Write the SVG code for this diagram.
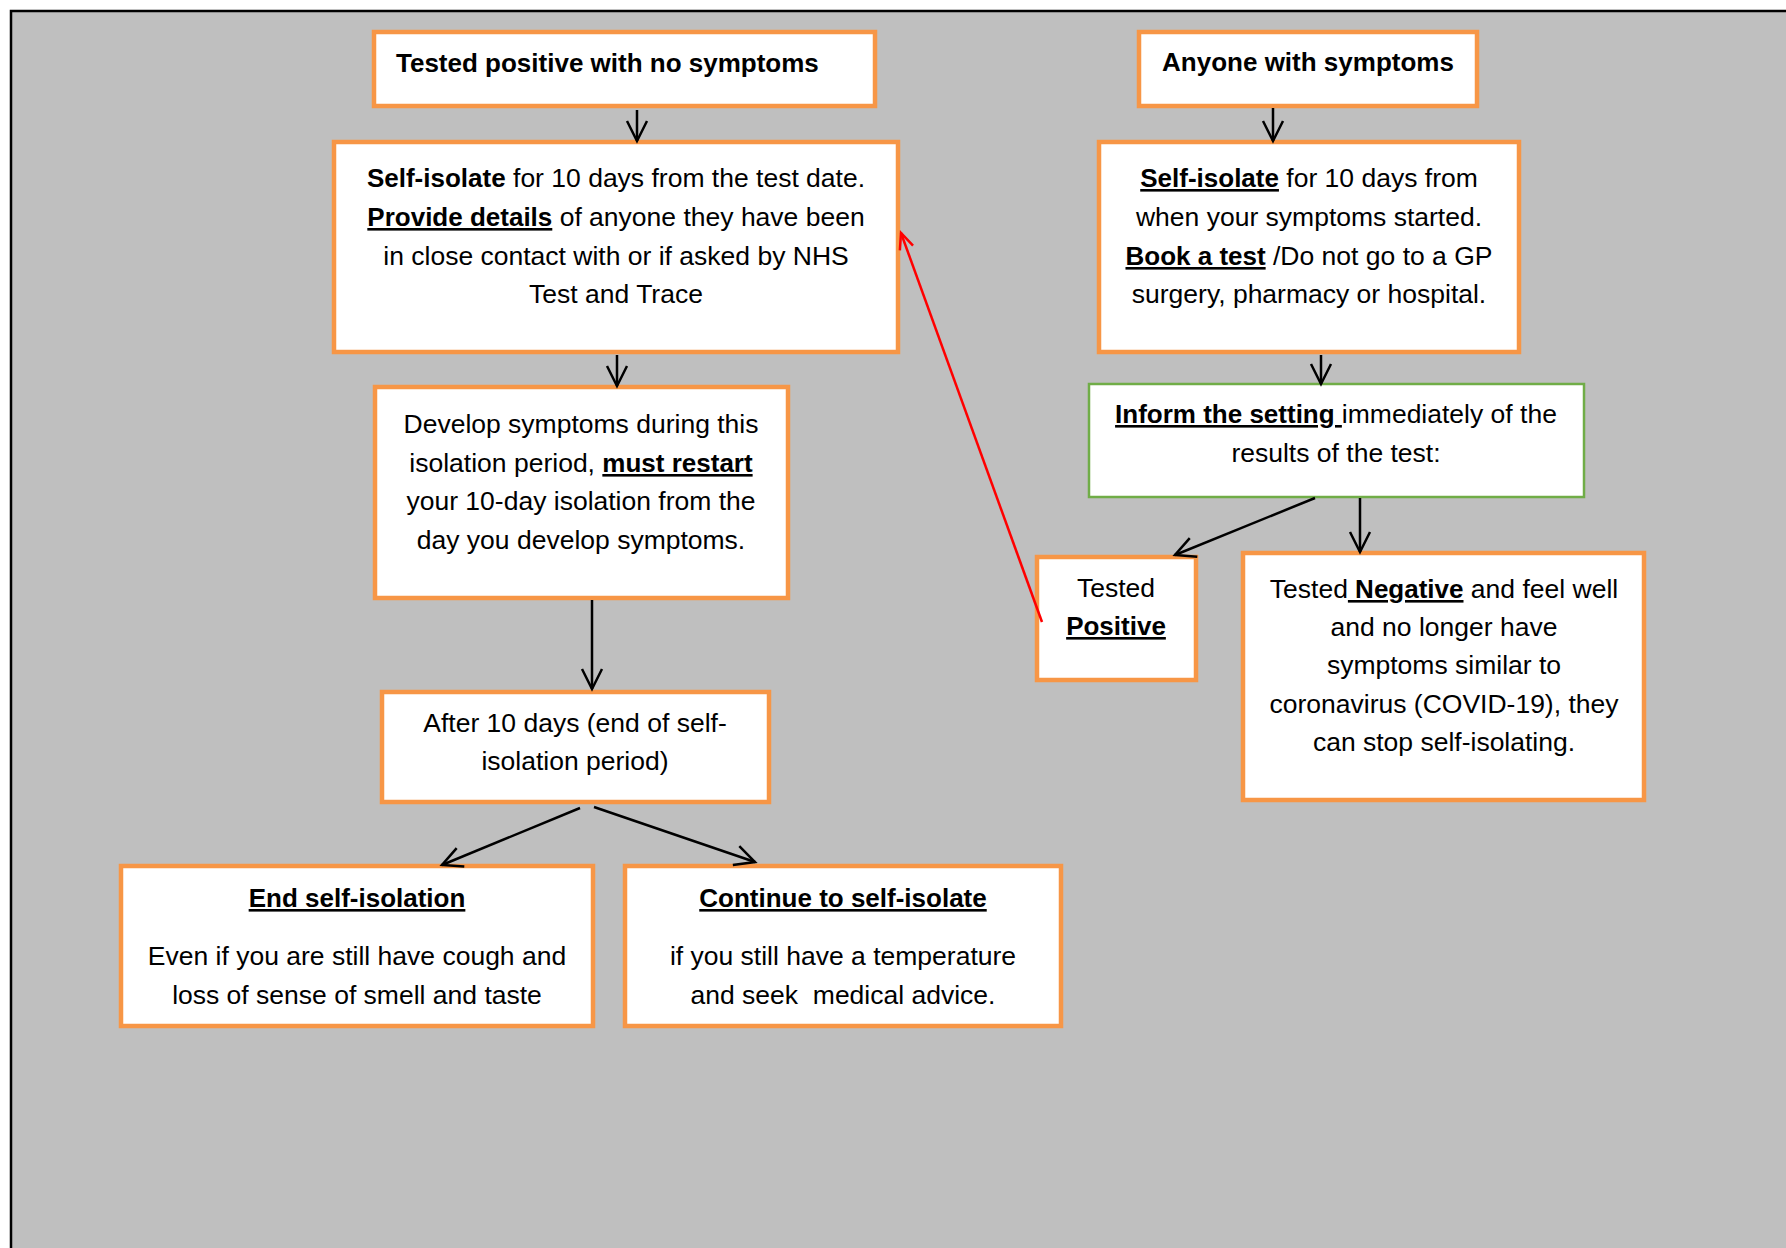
<svg xmlns="http://www.w3.org/2000/svg" width="1786" height="1248" viewBox="0 0 1786 1248">
<defs>
<style>
.box{fill:#fff;stroke:#F79646;stroke-width:4.5}
.gbox{fill:#fff;stroke:#70AD47;stroke-width:2.5}
.t{font-family:"Liberation Sans",Arial,sans-serif;font-size:26.5px;fill:#000;text-anchor:middle;white-space:pre}
.b{font-weight:bold;font-size:26px}
.u{text-decoration:underline}
.conn{stroke:#000;stroke-width:2.5;fill:none}
.blk{marker-end:url(#ah)}
.red{stroke:#FF0000;stroke-width:2.5;fill:none;marker-end:url(#ahr)}
</style>
<marker id="ah" markerUnits="userSpaceOnUse" viewBox="-22 -12 24 24" markerWidth="24" markerHeight="24" refX="0" refY="0" orient="auto" overflow="visible">
<path d="M-20,-10 L0,0 L-20,10" fill="none" stroke="#000" stroke-width="2.5"/>
</marker>
<marker id="ahr" markerUnits="userSpaceOnUse" viewBox="-22 -12 24 24" markerWidth="24" markerHeight="24" refX="0" refY="0" orient="auto" overflow="visible">
<path d="M-16,-7 L0,0 L-16,7" fill="none" stroke="#FF0000" stroke-width="2.5"/>
</marker>
</defs>
<rect x="0" y="0" width="1786" height="1248" fill="#fff"/>
<rect x="11" y="11" width="1800" height="1300" fill="#BFBFBF" stroke="#000" stroke-width="2.5"/>

<g id="n1"><rect class="box" x="374" y="32" width="501" height="74"/>
<text class="t b" x="396" y="72" style="text-anchor:start">Tested positive with no symptoms</text></g>

<g id="n2"><rect class="box" x="1139" y="32" width="338" height="74"/>
<text class="t b" x="1308" y="71">Anyone with symptoms</text></g>

<g id="n3"><rect class="box" x="334" y="142" width="564" height="210"/>
<text class="t" x="616" y="187"><tspan class="b">Self-isolate</tspan> for 10 days from the test date.</text>
<text class="t" x="616" y="226"><tspan class="b u">Provide details</tspan> of anyone they have been</text>
<text class="t" x="616" y="265">in close contact with or if asked by NHS</text>
<text class="t" x="616" y="303">Test and Trace</text></g>

<g id="n4"><rect class="box" x="1099" y="142" width="420" height="210"/>
<text class="t" x="1309" y="187"><tspan class="b u">Self-isolate</tspan> for 10 days from</text>
<text class="t" x="1309" y="226">when your symptoms started.</text>
<text class="t" x="1309" y="265"><tspan class="b u">Book a test</tspan> /Do not go to a GP</text>
<text class="t" x="1309" y="303">surgery, pharmacy or hospital.</text></g>

<g id="n5"><rect class="box" x="375" y="387" width="413" height="211"/>
<text class="t" x="581" y="433">Develop symptoms during this</text>
<text class="t" x="581" y="472">isolation period, <tspan class="b u">must restart</tspan></text>
<text class="t" x="581" y="510">your 10-day isolation from the</text>
<text class="t" x="581" y="549">day you develop symptoms.</text></g>

<g id="n6"><rect class="gbox" x="1089" y="384" width="495" height="113"/>
<text class="t" x="1336" y="423"><tspan class="b u">Inform the setting </tspan>immediately of the</text>
<text class="t" x="1336" y="462">results of the test:</text></g>

<g id="n7"><rect class="box" x="1037" y="557" width="159" height="123"/>
<text class="t" x="1116" y="597">Tested</text>
<text class="t b u" x="1116" y="635">Positive</text></g>

<g id="n8"><rect class="box" x="1243" y="553" width="401" height="247"/>
<text class="t" x="1444" y="598">Tested<tspan class="b u"> Negative</tspan> and feel well</text>
<text class="t" x="1444" y="636">and no longer have</text>
<text class="t" x="1444" y="674">symptoms similar to</text>
<text class="t" x="1444" y="713">coronavirus (COVID-19), they</text>
<text class="t" x="1444" y="751">can stop self-isolating.</text></g>

<g id="n9"><rect class="box" x="382" y="692" width="387" height="110"/>
<text class="t" x="575" y="732">After 10 days (end of self-</text>
<text class="t" x="575" y="770">isolation period)</text></g>

<g id="n10"><rect class="box" x="121" y="866" width="472" height="160"/>
<text class="t b u" x="357" y="907">End self-isolation</text>
<text class="t" x="357" y="965">Even if you are still have cough and</text>
<text class="t" x="357" y="1004">loss of sense of smell and taste</text></g>

<g id="n11"><rect class="box" x="625" y="866" width="436" height="160"/>
<text class="t b u" x="843" y="907">Continue to self-isolate</text>
<text class="t" x="843" y="965">if you still have a temperature</text>
<text class="t" x="843" y="1004">and seek  medical advice.</text></g>

<g id="connectors">
<line class="conn blk" x1="637" y1="110" x2="637" y2="141"/>
<line class="conn blk" x1="1273" y1="108" x2="1273" y2="141"/>
<line class="conn blk" x1="617" y1="355" x2="617" y2="386"/>
<line class="conn blk" x1="1321" y1="355" x2="1321" y2="384"/>
<line class="conn blk" x1="592" y1="600" x2="592" y2="689"/>
<line class="conn blk" x1="1315" y1="498" x2="1175" y2="555"/>
<line class="conn blk" x1="1360" y1="498" x2="1360" y2="552"/>
<line class="conn blk" x1="580" y1="808" x2="442" y2="865"/>
<line class="conn blk" x1="594" y1="807" x2="755" y2="862"/>
<line class="red" x1="1042" y1="622" x2="901" y2="233"/>
</g>
</svg>
